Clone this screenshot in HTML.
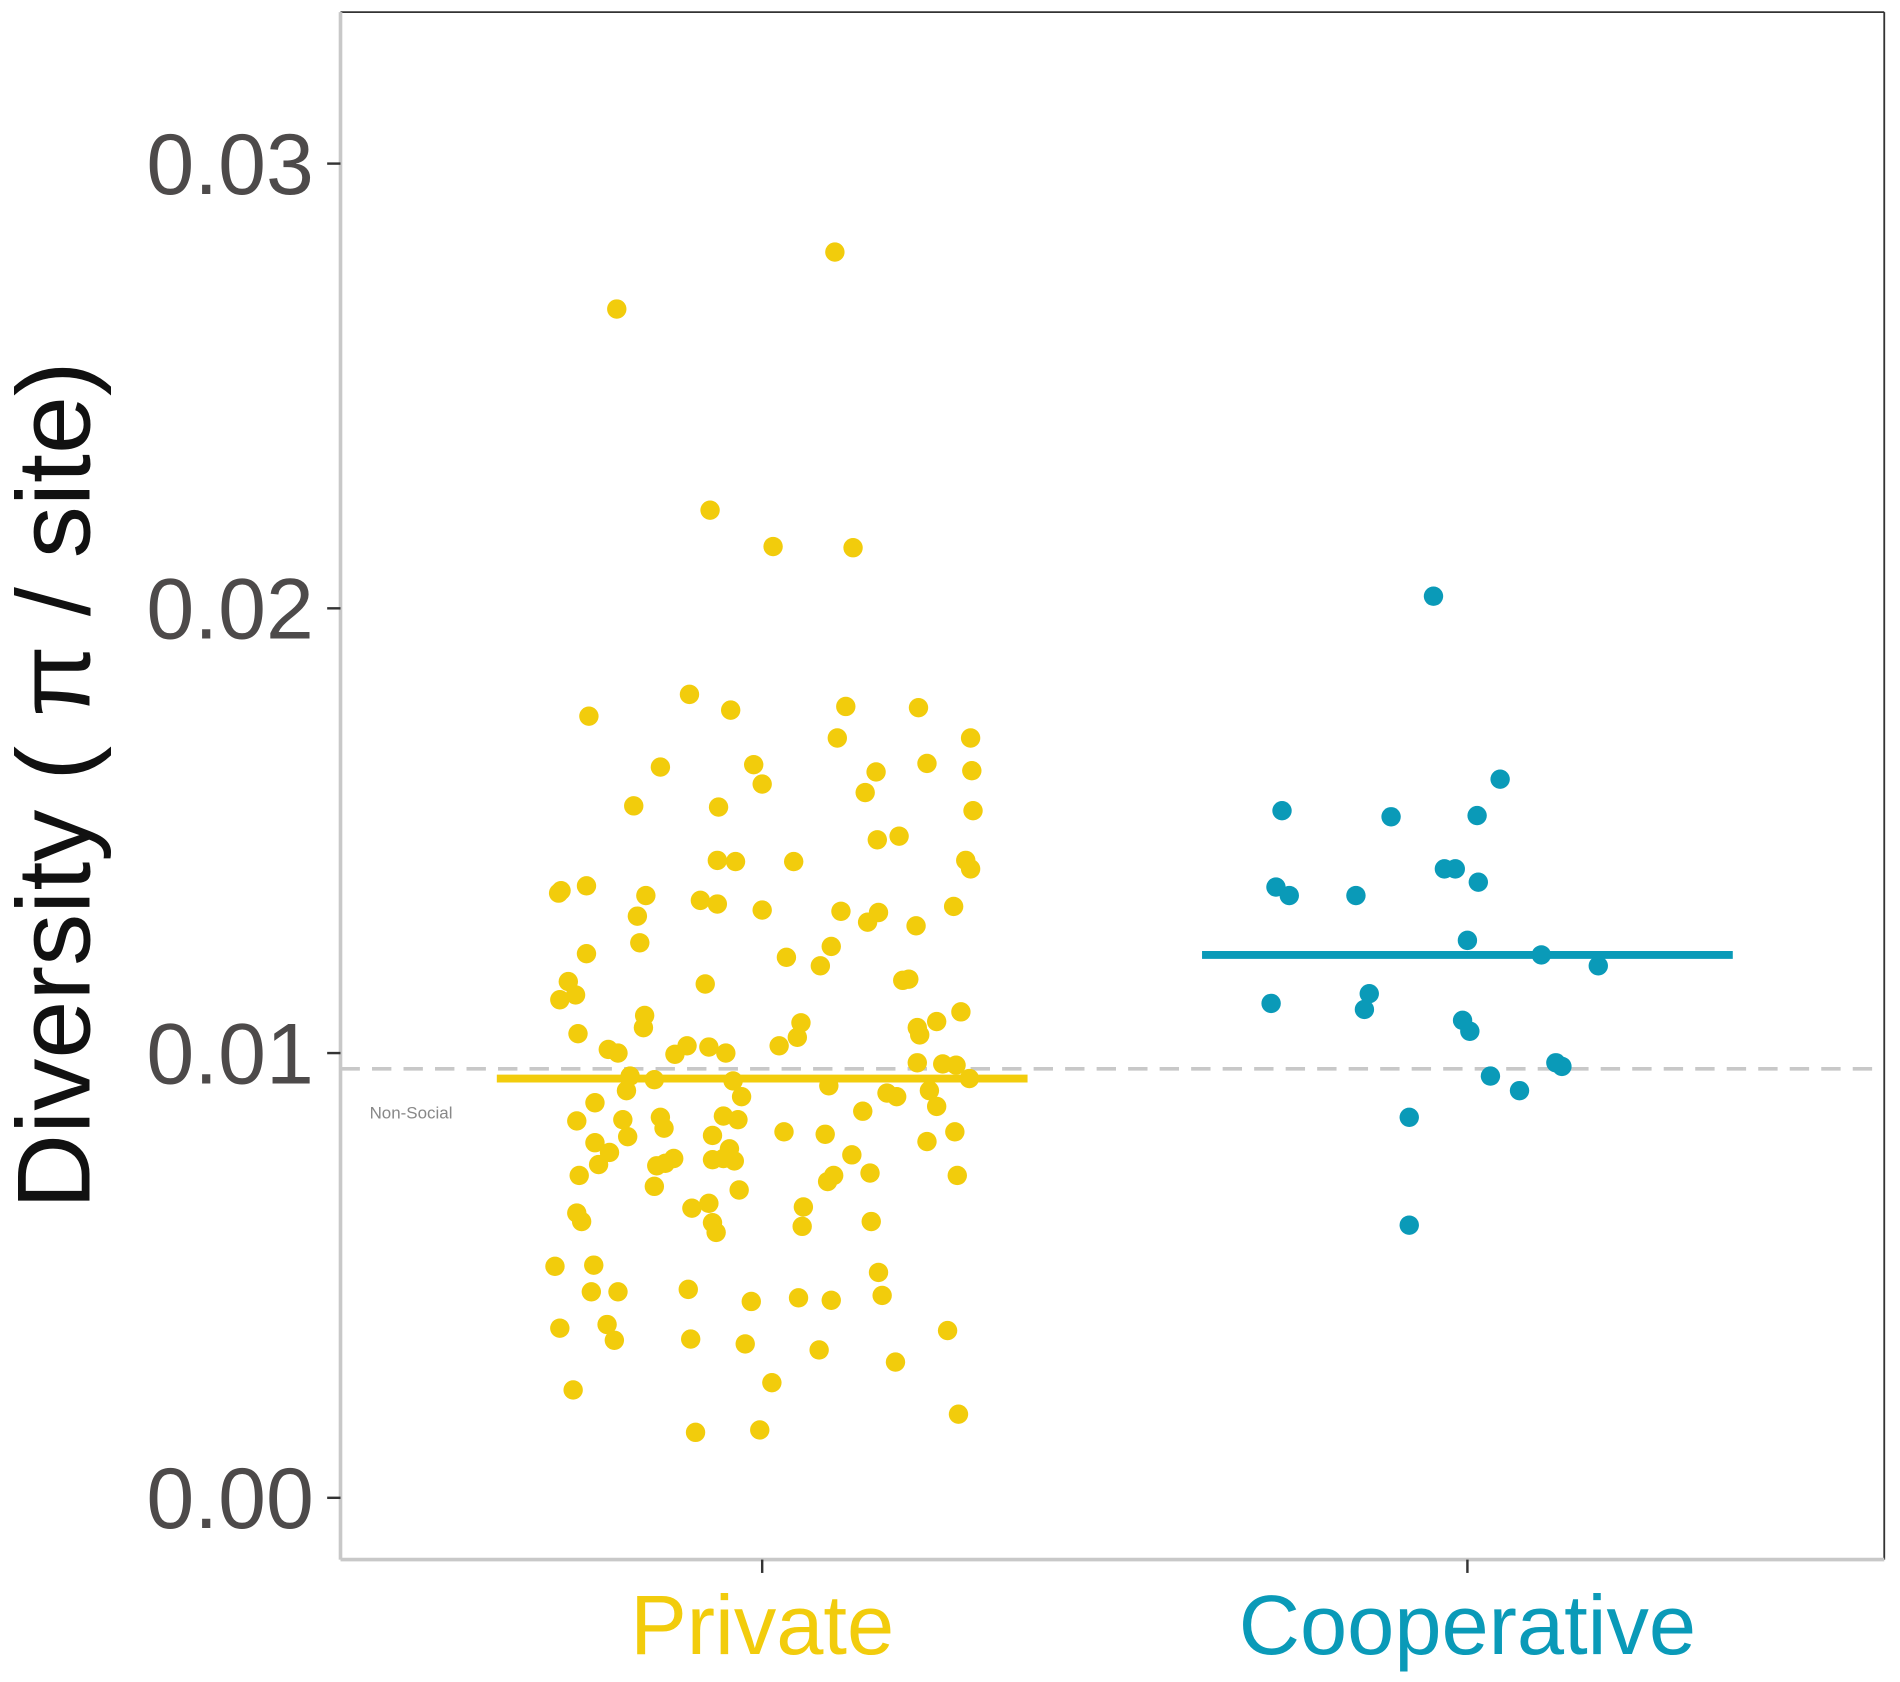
<!DOCTYPE html>
<html><head><meta charset="utf-8"><style>html,body{margin:0;padding:0;background:#fff}svg{display:block}</style></head>
<body>
<svg xmlns="http://www.w3.org/2000/svg" width="1900" height="1682" viewBox="0 0 1568 1388" preserveAspectRatio="none" font-family="Liberation Sans, Arial, sans-serif">
<rect width="1568" height="1388" fill="#fff"/>
<line x1="281" y1="10" x2="1555" y2="10" stroke="#333" stroke-width="1.5"/>
<line x1="1555" y1="10" x2="1555" y2="1287" stroke="#333" stroke-width="1.5"/>
<line x1="281" y1="10" x2="281" y2="1287" stroke="#c8c8c8" stroke-width="3"/>
<line x1="281" y1="1287" x2="1555" y2="1287" stroke="#c8c8c8" stroke-width="3"/>
<g stroke="#333" stroke-width="2">
<line x1="270" y1="135" x2="281" y2="135"/><line x1="270" y1="502" x2="281" y2="502"/>
<line x1="270" y1="869" x2="281" y2="869"/><line x1="270" y1="1236" x2="281" y2="1236"/>
<line x1="629" y1="1287" x2="629" y2="1298"/><line x1="1211" y1="1287" x2="1211" y2="1298"/>
</g>
<g fill="#4d4a4a" font-size="71" text-anchor="end">
<text x="259" y="160">0.03</text><text x="259" y="527">0.02</text>
<text x="259" y="894">0.01</text><text x="259" y="1261">0.00</text>
</g>
<text transform="translate(74,648) rotate(-90)" text-anchor="middle" font-size="86" fill="#111">Diversity ( π / site)</text>
<text x="629" y="1365" text-anchor="middle" font-size="70" fill="#f2cc0c">Private</text>
<text x="1211" y="1365" text-anchor="middle" font-size="70" fill="#0a9ab8">Cooperative</text>
<text x="305" y="923" font-size="14" fill="#888">Non-Social</text>
<line x1="281" y1="882" x2="1555" y2="882" stroke="#c8c8c8" stroke-width="3" stroke-dasharray="16,10"/>
<g fill="#f2cc0c" id="p"></g>
<g fill="#0a9ab8" id="c"></g>
<line x1="410" y1="890" x2="848" y2="890" stroke="#f2cc0c" stroke-width="6.5"/>
<line x1="992" y1="788" x2="1430" y2="788" stroke="#0a9ab8" stroke-width="6.5"/>
</svg>
<script>
var P=[[689,208],[509,255],[586,421],[638,451],[704,452],[569,573],[486,591],[603,586],[698,583],[758,584],[801,609],[691,609],[545,633],[622,631],[629,647],[723,637],[765,630],[802,636],[523,665],[593,666],[714,654],[803,669],[724,693],[742,690],[592,710],[607,711],[655,711],[797,710],[801,717],[463,735],[461,737],[484,731],[533,739],[526,756],[578,743],[592,746],[629,751],[694,752],[725,753],[716,761],[787,748],[756,764],[528,778],[686,781],[484,787],[649,790],[677,797],[469,810],[475,821],[462,825],[582,812],[750,808],[745,809],[532,838],[531,848],[661,844],[773,843],[793,835],[477,853],[658,856],[757,848],[759,854],[502,866],[510,869],[567,863],[557,870],[585,864],[599,869],[643,863],[757,877],[778,878],[789,879],[520,888],[540,891],[605,892],[517,900],[612,905],[684,896],[732,902],[740,905],[767,900],[800,890],[773,913],[491,910],[712,917],[514,924],[476,925],[545,922],[597,921],[609,924],[548,931],[588,937],[647,934],[681,936],[518,938],[491,943],[602,948],[765,942],[788,934],[503,951],[597,956],[606,958],[703,953],[588,957],[556,956],[542,962],[549,960],[494,961],[478,970],[688,970],[683,975],[718,968],[790,970],[540,979],[610,982],[571,997],[585,993],[663,996],[476,1001],[480,1008],[588,1009],[591,1017],[719,1008],[662,1012],[458,1045],[490,1044],[725,1050],[488,1066],[510,1066],[568,1064],[728,1069],[620,1074],[659,1071],[686,1073],[462,1096],[501,1093],[507,1106],[570,1105],[615,1109],[676,1114],[782,1098],[739,1124],[637,1141],[473,1147],[791,1167],[574,1182],[627,1180]];
var C=[[1183,492],[1238,643],[1058,669],[1148,674],[1219,673],[1192,717],[1201,717],[1220,728],[1053,732],[1064,739],[1119,739],[1211,776],[1272,788],[1319,797],[1049,828],[1130,820],[1126,833],[1207,842],[1213,851],[1284,877],[1289,880],[1230,888],[1254,900],[1163,922],[1163,1011]];
function d(id,a){var g=document.getElementById(id),s='';a.forEach(function(p){s+='<circle cx="'+p[0]+'" cy="'+p[1]+'" r="8"/>';});g.innerHTML=s;}
d('p',P);d('c',C);
</script>
</body></html>
